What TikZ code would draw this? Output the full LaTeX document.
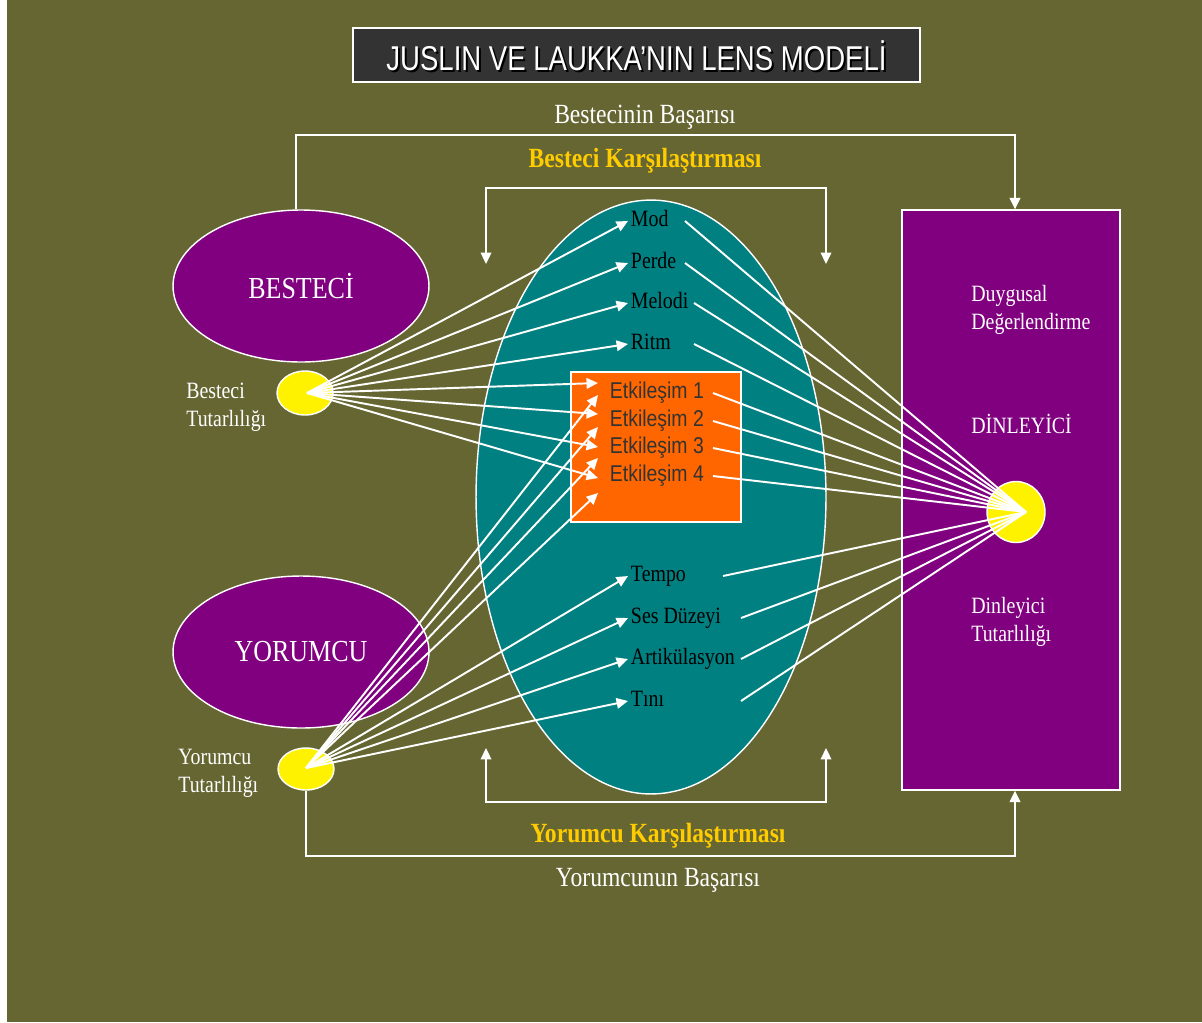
\documentclass[tikz,border=0pt]{standalone}
\usepackage{fontspec}
\setmainfont{Liberation Serif}[FakeStretch=0.85]
\newfontfamily\etkfont{Liberation Sans}[FakeStretch=0.85]
\newfontfamily\baslikfont{Liberation Sans}[FakeStretch=0.8]
\usetikzlibrary{shapes.geometric,arrows.meta}
\definecolor{zeytin}{HTML}{666633}
\definecolor{mor}{HTML}{800080}
\definecolor{camgobegi}{HTML}{008080}
\definecolor{turuncu}{HTML}{FF6600}
\definecolor{altin}{HTML}{FFCC00}
\definecolor{koyugri}{HTML}{333333}
\newcommand{\yazi}[2]{\fontsize{#1}{#2}\selectfont}

\begin{document}
\begin{tikzpicture}[x=0.02cm,y=-0.02cm]
        \tikzstyle{every node}=[inner sep=0pt,text=white]
        \tikzstyle{kenar}=[draw=white,line width=0.8pt]
        \tikzstyle{hat}=[draw=white,line width=1.1pt]
        \tikzstyle{ok}=[hat,-{Triangle[length=6.5pt,width=6pt]}]
        \tikzstyle{cift}=[hat,{Triangle[length=6.5pt,width=6pt]}-{Triangle[length=6.5pt,width=6pt]}]
        \tikzstyle{ipucu}=[anchor=west,inner sep=1.5pt,text=black,text height=0.75em,text depth=0.15em,font=\yazi{13.3}{16}]
        \tikzstyle{etk}=[anchor=west,inner sep=1.5pt,text=koyugri,text height=0.75em,text depth=0.15em,font=\etkfont\yazi{13}{16}]
        \tikzstyle{etiket}=[anchor=west,align=left,font=\yazi{13.3}{16}]
        \tikzstyle{baslikyazi}=[font=\baslikfont\yazi{19.6}{22}]
        \tikzstyle{mortop}=[ellipse,kenar,fill=mor,minimum width=5.12cm,minimum height=3.04cm,font=\yazi{17.4}{20}]
        \tikzstyle{sarinokta}=[ellipse,kenar,fill=yellow]
        \useasboundingbox (0,0) rectangle (1202,1022);
        \fill[white] (0,0) rectangle (1202,1022);
        \fill[zeytin] (7,0) rectangle (1202,1022);

        \node[kenar,fill=koyugri,minimum width=11.34cm,minimum height=1.08cm] (baslik) at (636.5,55) {};
        \node[baslikyazi,text=black] (baslikgolge) at (638.5,58) {JUSLIN VE LAUKKA’NIN LENS MODELİ};
        \node[baslikyazi] (baslikyazi) at (636.5,56) {JUSLIN VE LAUKKA’NIN LENS MODELİ};
        \node[font=\yazi{15.8}{18}] (bbasari) at (645,117) {Bestecinin Başarısı};
        \node[text=altin,font=\bfseries\yazi{15.8}{18}] (bkars) at (645,161) {Besteci Karşılaştırması};
        \node[text=altin,font=\bfseries\yazi{15.8}{18}] (ykars) at (658,836) {Yorumcu Karşılaştırması};
        \node[font=\yazi{15.8}{18}] (ybasari) at (658,880) {Yorumcunun Başarısı};

        \node[mortop] (besteci) at (301,286) {BESTECİ};
        \node[mortop] (yorumcu) at (301,652) {YORUMCU};
        \node[ellipse,kenar,fill=camgobegi,minimum width=7cm,minimum height=11.88cm] (lens) at (651,497) {};
        \node[kenar,fill=turuncu,minimum width=3.4cm,minimum height=3cm] (kutu) at (656,447) {};
        \node[kenar,fill=mor,minimum width=4.36cm,minimum height=11.6cm] (dinleyici) at (1011,500) {};
        \node[sarinokta,minimum width=1.12cm,minimum height=0.88cm] (bt) at (305,393) {};
        \node[sarinokta,minimum width=1.12cm,minimum height=0.84cm] (yt) at (306,769) {};
        \node[sarinokta,minimum width=1.16cm,minimum height=1.22cm] (dt) at (1016,512) {};

        \node[etiket] (btyazi) at (186,407) {Besteci\\Tutarlılığı};
        \node[etiket] (ytyazi) at (178,773) {Yorumcu\\Tutarlılığı};
        \node[etiket] (duygu) at (971,310) {Duygusal\\Değerlendirme};
        \node[etiket] (dinyazi) at (971,424) {DİNLEYİCİ};
        \node[etiket] (dtyazi) at (971,622) {Dinleyici\\Tutarlılığı};

        \node[ipucu] (mod) at (628,221) {Mod};
        \node[ipucu] (perde) at (628,263) {Perde};
        \node[ipucu] (melodi) at (628,303) {Melodi};
        \node[ipucu] (ritm) at (628,344) {Ritm};
        \node[ipucu] (tempo) at (628,576) {Tempo};
        \node[ipucu] (ses) at (628,618) {Ses Düzeyi};
        \node[ipucu] (artik) at (628,659) {Artikülasyon};
        \node[ipucu] (tini) at (628,701) {Tını};
        \node[etk] (e1) at (607,393) {Etkileşim 1};
        \node[etk] (e2) at (607,421) {Etkileşim 2};
        \node[etk] (e3) at (607,448) {Etkileşim 3};
        \node[etk] (e4) at (607,476) {Etkileşim 4};

        \coordinate (btuc) at (307,393);
        \coordinate (ytuc) at (306,768);
        \coordinate (dtuc) at (1026,512);
        \foreach \h in {mod,perde,melodi,ritm} \draw[ok] (btuc) -- (\h.west);
        \foreach \h/\d in {1/-10,2/-7,3/-1,4/2} \draw[ok] (btuc) -- ([shift={(-9,\d)}]e\h.west);
        \foreach \h/\d in {1/2,2/6,3/10,4/17} \draw[ok] (ytuc) -- ([shift={(-9,\d)}]e\h.west);
        \foreach \h in {tempo,ses,artik,tini} \draw[ok] (ytuc) -- (\h.west);
        \foreach \h/\d in {mod/57,perde/57,melodi/66,ritm/66,tempo/95,ses/113,artik/113,tini/113} \draw[hat] ([shift={(\d,0)}]\h.west) -- (dtuc);
        \foreach \h in {1,...,4} \draw[hat] ([shift={(106,0)}]e\h.west) -- (dtuc);

        \coordinate (ust) at (0,135);
        \coordinate (alt) at (0,856);
        \draw[ok] ([shift={(-5,0)}]besteci.north) -- ([shift={(-5,0)}]besteci.north |- ust) -| ([shift={(4,0)}]dinleyici.north);
        \draw[ok] (yt.south) -- (yt.south |- alt) -| ([shift={(4,0)}]dinleyici.south);
        \coordinate (bk1) at (486,264);
        \coordinate (bk2) at (826,264);
        \coordinate (bkust) at (0,188);
        \draw[cift] (bk1) |- (bk2 |- bkust) -- (bk2);
        \coordinate (yk1) at (486,748);
        \coordinate (yk2) at (826,748);
        \coordinate (ykalt) at (0,802);
        \draw[cift] (yk1) |- (yk2 |- ykalt) -- (yk2);
\end{tikzpicture}
\end{document}
